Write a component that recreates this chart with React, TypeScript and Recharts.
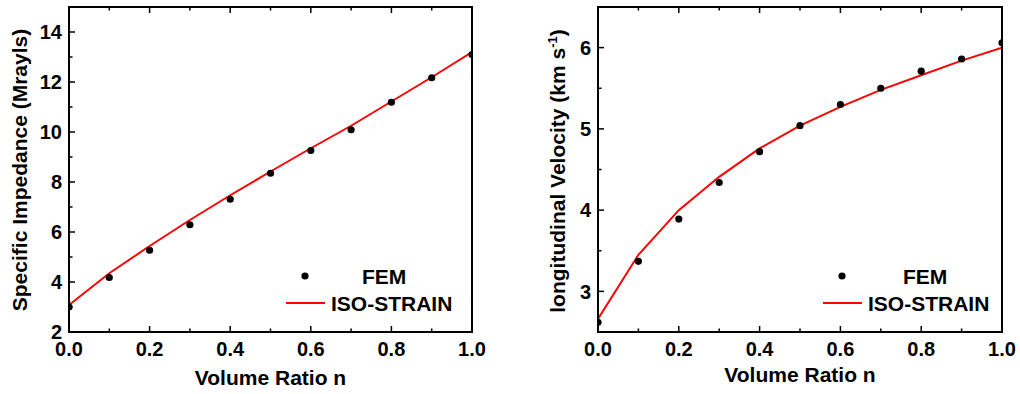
import { LineChart, Line, XAxis, YAxis } from "recharts";

const volumeRatio = [0, 0.1, 0.2, 0.3, 0.4, 0.5, 0.6, 0.7, 0.8, 0.9, 1.0];

// left panel: specific impedance (MRayls)
const femImpedance = [3.0, 4.18, 5.27, 6.29, 7.31, 8.35, 9.26, 10.09, 11.19, 12.17, 13.1];
const isoImpedance = [3.08, 4.35, 5.44, 6.48, 7.47, 8.42, 9.35, 10.25, 11.22, 12.19, 13.2];

// right panel: longitudinal velocity (km/s)
const femVelocity = [2.62, 3.37, 3.89, 4.34, 4.72, 5.04, 5.3, 5.5, 5.71, 5.86, 6.06];
const isoVelocity = [2.66, 3.45, 4.0, 4.41, 4.76, 5.04, 5.27, 5.48, 5.66, 5.84, 6.0];

const xTicks = [0, 0.1, 0.2, 0.3, 0.4, 0.5, 0.6, 0.7, 0.8, 0.9, 1.0];
const impedanceTicks = [2, 3, 4, 5, 6, 7, 8, 9, 10, 11, 12, 13, 14];
const velocityTicks = [2.5, 3, 3.5, 4, 4.5, 5, 5.5, 6, 6.5];

const FONT = "'Liberation Sans', Arial, sans-serif";
const RED = "#ff0000";
const MAJOR = 6;
const MINOR = 3.5;

const axisLine = { stroke: "#000", strokeWidth: 2, strokeLinecap: "square" as const };

const isMajorX = (v: number) => Math.round(v * 10) % 2 === 0;

function bottomTick(props: any) {
  const { x, y, payload } = props;
  const major = isMajorX(payload.value);
  return (
    <g>
      <line x1={x} y1={y} x2={x} y2={y - (major ? MAJOR : MINOR)} stroke="#000" strokeWidth={1.5} />
      {major && (
        <text x={x} y={y + 24} textAnchor="middle" fontFamily={FONT} fontWeight="bold" fontSize={20} fill="#000">
          {payload.value.toFixed(1)}
        </text>
      )}
    </g>
  );
}

function topTick(props: any) {
  const { x, y, payload } = props;
  const major = isMajorX(payload.value);
  return <line x1={x} y1={y} x2={x} y2={y + (major ? MAJOR : MINOR)} stroke="#000" strokeWidth={1.5} />;
}

function makeLeftTick(isMajor: (v: number) => boolean) {
  return (props: any) => {
    const { x, y, payload } = props;
    const major = isMajor(payload.value);
    return (
      <g>
        <line x1={x} y1={y} x2={x + (major ? MAJOR : MINOR)} y2={y} stroke="#000" strokeWidth={1.5} />
        {major && (
          <text x={x - 7} y={y} dy="0.36em" textAnchor="end" fontFamily={FONT} fontWeight="bold" fontSize={20} fill="#000">
            {payload.value}
          </text>
        )}
      </g>
    );
  };
}

function makeRightTick(isMajor: (v: number) => boolean) {
  return (props: any) => {
    const { x, y, payload } = props;
    const major = isMajor(payload.value);
    return <line x1={x} y1={y} x2={x - (major ? MAJOR : MINOR)} y2={y} stroke="#000" strokeWidth={1.5} />;
  };
}

const impMajor = (v: number) => v % 2 === 0;
const velMajor = (v: number) => Number.isInteger(v);

const impedanceData = volumeRatio.map((n, i) => ({ n, fem: femImpedance[i], iso: isoImpedance[i] }));
const velocityData = volumeRatio.map((n, i) => ({ n, fem: femVelocity[i], iso: isoVelocity[i] }));

const titleStyle = { fontFamily: FONT, fontWeight: "bold" as const, fontSize: 21, fill: "#000" };

interface PanelProps {
  data: { n: number; fem: number; iso: number }[];
  left: number;
  leftAxisWidth: number;
  rightAxisWidth: number;
  yDomain: [number, number];
  yTicks: number[];
  isMajor: (v: number) => boolean;
  xTitleOffset: number;
  yTitle: React.ReactNode;
}

function Panel({ data, left, leftAxisWidth, rightAxisWidth, yDomain, yTicks, isMajor, xTitleOffset, yTitle }: PanelProps) {
  return (
    <div style={{ position: "absolute", left, top: 0 }}>
      <LineChart width={510} height={394} data={data} margin={{ top: 0, right: 0, bottom: 0, left: 0 }}>
        <XAxis
          xAxisId="b"
          dataKey="n"
          type="number"
          domain={[0, 1]}
          ticks={xTicks}
          interval={0}
          allowDataOverflow
          height={62}
          tickSize={0}
          tickMargin={0}
          tickLine={false}
          axisLine={axisLine}
          tick={bottomTick}
          label={{ value: "Volume Ratio n", position: "insideBottom", offset: xTitleOffset, style: titleStyle }}
        />
        <XAxis
          xAxisId="t"
          dataKey="n"
          type="number"
          orientation="top"
          domain={[0, 1]}
          ticks={xTicks}
          interval={0}
          height={7}
          tickSize={0}
          tickMargin={0}
          tickLine={false}
          axisLine={axisLine}
          tick={topTick}
        />
        <YAxis
          yAxisId="l"
          type="number"
          domain={yDomain}
          ticks={yTicks}
          interval={0}
          allowDataOverflow
          width={leftAxisWidth}
          tickSize={0}
          tickMargin={0}
          tickLine={false}
          axisLine={axisLine}
          tick={makeLeftTick(isMajor)}
          label={yTitle as any}
        />
        <YAxis
          yAxisId="r"
          orientation="right"
          type="number"
          domain={yDomain}
          ticks={yTicks}
          interval={0}
          width={rightAxisWidth}
          tickSize={0}
          tickMargin={0}
          tickLine={false}
          axisLine={axisLine}
          tick={makeRightTick(isMajor)}
        />
        <Line
          xAxisId="b"
          yAxisId="l"
          type="linear"
          dataKey="iso"
          stroke={RED}
          strokeWidth={2}
          dot={false}
          activeDot={false}
          isAnimationActive={false}
        />
        <Line
          xAxisId="b"
          yAxisId="l"
          type="linear"
          dataKey="fem"
          stroke="none"
          strokeWidth={0}
          dot={{ r: 3.6, fill: "#000", stroke: "none" }}
          activeDot={false}
          isAnimationActive={false}
        />
      </LineChart>
    </div>
  );
}

function ImpedanceTitle() {
  return (
    <text x={27} y={170} transform="rotate(-90 27 170)" textAnchor="middle" {...titleStyle}>
      Specific Impedance (Mrayls)
    </text>
  );
}

function VelocityTitle() {
  return (
    <text x={55} y={171} transform="rotate(-90 55 171)" textAnchor="middle" {...titleStyle}>
      longitudinal Velocity (km s
      <tspan fontSize={13} dy={-8}>-1</tspan>
      <tspan dy={8}>)</tspan>
    </text>
  );
}

function LegendBox({ dotX, lineX, femX, isoX }: { dotX: number; lineX: number; femX: number; isoX: number }) {
  return (
    <g>
      <circle cx={dotX} cy={276} r={3.6} fill="#000" />
      <text x={femX} y={283.5} {...titleStyle}>FEM</text>
      <line x1={lineX} y1={303} x2={lineX + 39} y2={303} stroke={RED} strokeWidth={2} />
      <text x={isoX} y={310.5} {...titleStyle}>ISO-STRAIN</text>
    </g>
  );
}

export default function App() {
  return (
    <div style={{ position: "absolute", left: 0, top: 0, width: 1020, height: 394, background: "#fff" }}>
      <Panel
        data={impedanceData}
        left={0}
        leftAxisWidth={69}
        rightAxisWidth={38}
        yDomain={[2, 15]}
        yTicks={impedanceTicks}
        isMajor={impMajor}
        xTitleOffset={9}
        yTitle={<ImpedanceTitle />}
      />
      <Panel
        data={velocityData}
        left={510}
        leftAxisWidth={88}
        rightAxisWidth={18}
        yDomain={[2.5, 6.5]}
        yTicks={velocityTicks}
        isMajor={velMajor}
        xTitleOffset={12}
        yTitle={<VelocityTitle />}
      />
      <svg width={1020} height={394} style={{ position: "absolute", left: 0, top: 0, pointerEvents: "none" }}>
        <LegendBox dotX={305} lineX={286} femX={362} isoX={331} />
        <LegendBox dotX={842} lineX={823} femX={903} isoX={868} />
      </svg>
    </div>
  );
}
